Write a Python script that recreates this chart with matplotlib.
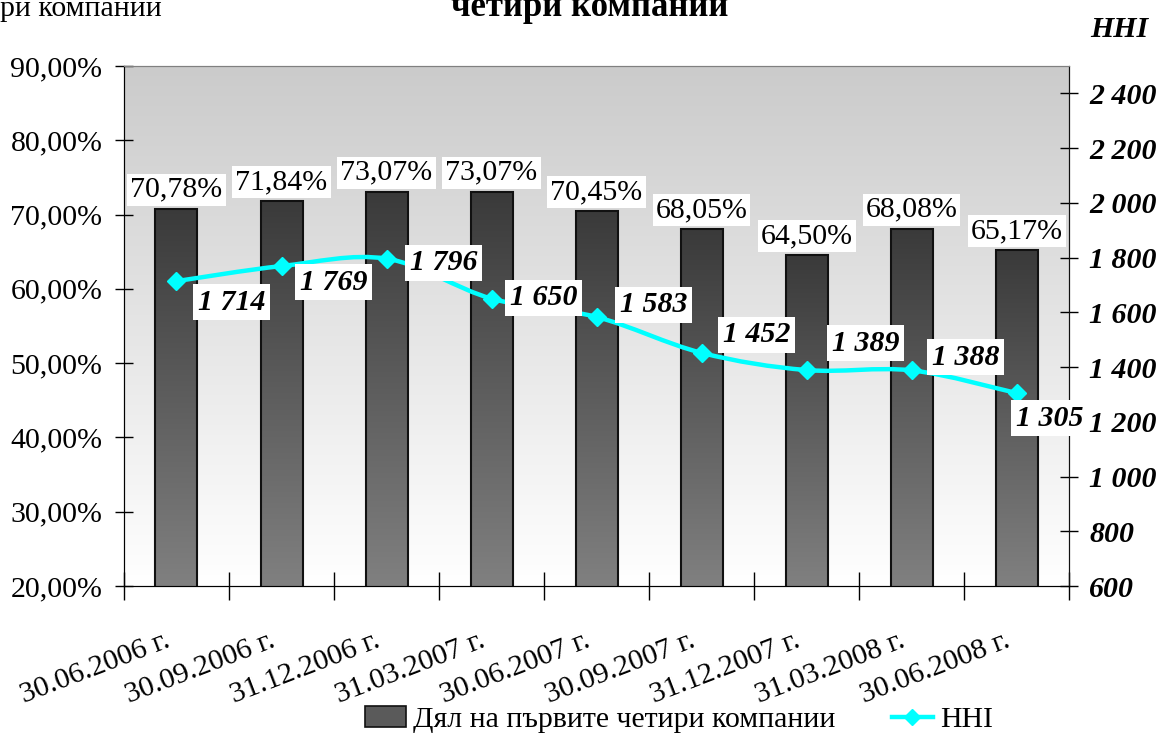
import matplotlib
matplotlib.use("Agg")
import matplotlib.pyplot as plt
import matplotlib.transforms as mtransforms
import numpy as np
from matplotlib.path import Path
from matplotlib.patches import PathPatch, Patch
from matplotlib.lines import Line2D
from matplotlib.ticker import FuncFormatter, MultipleLocator

# data
dates = ["30.06.2006 г.", "30.09.2006 г.", "31.12.2006 г.", "31.03.2007 г.",
         "30.06.2007 г.", "30.09.2007 г.", "31.12.2007 г.", "31.03.2008 г.",
         "30.06.2008 г."]
share = [70.78, 71.84, 73.07, 73.07, 70.45, 68.05, 64.50, 68.08, 65.17]
hhi = [1714, 1769, 1796, 1650, 1583, 1452, 1389, 1388, 1305]

share_label = "Дял на първите четири компании"
hhi_label = "HHI"
title_text = "четири компании"
corner_text = "ри компании"

# label offsets for the HHI values (pixels)
hhi_offsets = [(55, -21), (52, -16), (57, -4), (52, 1), (57, 12),
               (55, 18), (59, 27), (54, 13), (33, -25)]

serif = "Liberation Serif"
plt.rcParams['font.family'] = serif
fs = 21.5

fig = plt.figure(figsize=(11.61, 7.49), dpi=100)
ax = fig.add_axes([0.1068, 0.2176, 0.9208 - 0.1068, 0.9119 - 0.2176])
x = np.arange(len(dates))

# plot area background: gray at top fading to white
grad = np.linspace(0, 1, 256).reshape(-1, 1)
bg_cmap = matplotlib.colors.LinearSegmentedColormap.from_list("bg", ["#ffffff", "#cbcbcb"])
ax.imshow(grad, extent=[-0.5, 8.5, 20, 90], origin="lower", cmap=bg_cmap,
          aspect="auto", zorder=0)

# bars with vertical gradient
bar_cmap = matplotlib.colors.LinearSegmentedColormap.from_list("bar", ["#808080", "#3a3a3a"])
bw = 0.4
bars = ax.bar(x, share, width=bw, bottom=0, facecolor="none", edgecolor="#111111",
              linewidth=1.5, zorder=3)
for b, xi, v in zip(bars, x, share):
    im = ax.imshow(grad, extent=[xi - bw / 2, xi + bw / 2, 20, v], origin="lower",
                   cmap=bar_cmap, aspect="auto", zorder=2)
    im.set_clip_path(b)

ax.set_xlim(-0.5, 8.5)
ax.set_ylim(20, 90)
ax.yaxis.set_major_locator(MultipleLocator(10))
ax.yaxis.set_major_formatter(FuncFormatter(lambda v, p: ("%.2f%%" % v).replace(".", ",")))
ax.tick_params(axis="y", direction="inout", length=13, width=1, labelsize=fs, pad=9)

# x: boundary ticks, labels at centres
ax.set_xticks(np.arange(-0.5, 9, 1))
ax.set_xticklabels([])
ax.set_xticks(x, minor=True)
ax.set_xticklabels(dates, minor=True, rotation=21, ha="right", va="top",
                   rotation_mode="anchor", fontsize=fs)
ax.tick_params(axis="x", which="major", direction="inout", length=20, width=1)
ax.tick_params(axis="x", which="minor", length=0, pad=30)
shift = mtransforms.ScaledTranslation(-12 / 100, 0, fig.dpi_scale_trans)
for t in ax.get_xticklabels(minor=True):
    t.set_transform(t.get_transform() + shift)

ax.spines["top"].set_color("#808080")
ax.spines["left"].set_color("#111111")
ax.spines["bottom"].set_color("#333333")

# bar value labels
for xi, v in zip(x, share):
    ax.annotate(("%.2f%%" % v).replace(".", ","), (xi, v), xytext=(0, 12),
                textcoords="offset pixels", ha="center", va="baseline", fontsize=fs,
                bbox=dict(boxstyle="square,pad=0.1", fc="white", ec="none"), zorder=6)

# HHI on the secondary axis
ax2 = ax.twinx()
ax2.set_ylim(600, 2500)
ax2.set_yticks(np.arange(600, 2401, 200))
ax2.yaxis.set_major_formatter(FuncFormatter(lambda v, p: "{:,.0f}".format(v).replace(",", " ")))
ax2.tick_params(axis="y", direction="inout", length=13, width=1, pad=8)
for t in ax2.get_yticklabels():
    t.set_fontsize(fs)
    t.set_fontweight("bold")
    t.set_fontstyle("italic")
ax2.spines["right"].set_color("#111111")
ax2.spines["top"].set_color("#808080")

# smooth curve through the points (cubic Bezier segments)
pts = np.column_stack([x, hhi]).astype(float)
verts = [pts[0]]
codes = [Path.MOVETO]
n = len(pts)
for i in range(n - 1):
    p0 = pts[i - 1] if i > 0 else pts[i]
    p1 = pts[i]
    p2 = pts[i + 1]
    p3 = pts[i + 2] if i + 2 < n else pts[i + 1]
    c1 = p1 + (p2 - p0) / 6
    c2 = p2 - (p3 - p1) / 6
    verts += [c1, c2, p2]
    codes += [Path.CURVE4] * 3
curve = PathPatch(Path(verts, codes), facecolor="none", edgecolor="#00ffff",
                  linewidth=3.2, zorder=4)
ax2.add_patch(curve)
ax2.plot(x, hhi, linestyle="none", marker="D", markersize=9, color="#00ffff", zorder=5)

for xi, v, off in zip(x, hhi, hhi_offsets):
    ax2.annotate("{:,}".format(v).replace(",", " "), (xi, v), xytext=off,
                 textcoords="offset pixels", ha="center", va="center", fontsize=fs,
                 fontweight="bold", fontstyle="italic",
                 bbox=dict(boxstyle="square,pad=0.15", fc="white", ec="none"), zorder=7)

# texts at the top edge
fig.text(0.508, 1 - 16 / 749, title_text, ha="center", va="baseline",
         fontsize=25, fontweight="bold")
fig.text(0.0, 1 - 16 / 749, corner_text, ha="left", va="baseline", fontsize=fs)
fig.text(1148 / 1161, 1 - 37 / 749, hhi_label, ha="right", va="baseline",
         fontsize=fs, fontweight="bold", fontstyle="italic")

# legend
handles = [Patch(facecolor="#5a5a5a", edgecolor="#111111", linewidth=1.2),
           Line2D([], [], color="#00ffff", linewidth=3.2, marker="D", markersize=8)]
fig.legend(handles, [share_label, hhi_label], loc="center", bbox_to_anchor=(0.585, 0.039),
           ncol=2, frameon=False, fontsize=fs, handlelength=1.35, handleheight=0.7,
           handletextpad=0.25, columnspacing=1.9)

fig.savefig("out.png", dpi=100)
